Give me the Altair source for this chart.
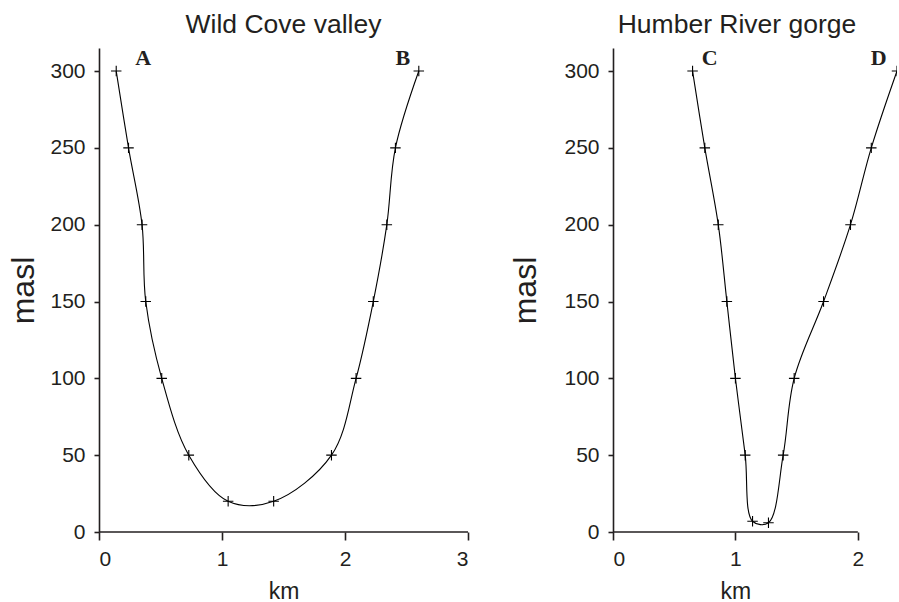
import altair as alt
import pandas as pd

# Wild Cove valley profile (A -> B)
left_km = [0.14, 0.24, 0.35, 0.38, 0.51, 0.73, 1.05, 1.42, 1.89, 2.09, 2.23, 2.34, 2.41, 2.60]
left_masl = [300, 250, 200, 150, 100, 50, 20, 20, 50, 100, 150, 200, 250, 300]
left_labels = ["A", "B"]
left_label_km = [0.36, 2.47]

# Humber River gorge profile (C -> D)
right_km = [0.65, 0.75, 0.86, 0.93, 1.00, 1.08, 1.14, 1.27, 1.39, 1.48, 1.72, 1.94, 2.11, 2.32]
right_masl = [300, 250, 200, 150, 100, 50, 7, 6, 50, 100, 150, 200, 250, 300]
right_labels = ["C", "D"]
right_label_km = [0.79, 2.17]

label_masl = [304, 304]
y_ticks = [0, 50, 100, 150, 200, 250, 300]

INK = "#231f20"
SANS = "Liberation Sans"
SERIF = "Liberation Serif"
CROSS = "M-1,0L1,0M0,-1L0,1"


def panel(xs, ys, labs, lab_x, title, xmax, xview, width, ytitle_pad, clip, title_dx):
    df = pd.DataFrame({"km": xs, "masl": ys, "seq": list(range(len(xs)))})
    lab_df = pd.DataFrame({"km": lab_x, "masl": label_masl, "lab": labs})
    base_df = pd.DataFrame({"x0": [0], "x1": [xmax], "y0": [0]})
    xscale = alt.Scale(domain=[0, xview], nice=False, zero=True)
    yscale = alt.Scale(domain=[0, 315], nice=False, zero=True)
    px_per_km = width / xview
    xaxis = alt.Axis(values=list(range(xmax + 1)), title="km", tickSize=8,
                     labelPadding=8, titlePadding=11, titleFontSize=23,
                     labelFontSize=21, format="d", labelOverlap=False,
                     domain=False, titleX=px_per_km * xmax / 2)
    yaxis = alt.Axis(values=y_ticks, title="masl", tickSize=5, labelPadding=9,
                     titlePadding=ytitle_pad, titleFontSize=32, labelFontSize=21,
                     labelOverlap=False)
    base = alt.Chart(df).encode(
        x=alt.X("km:Q", scale=xscale, axis=xaxis),
        y=alt.Y("masl:Q", scale=yscale, axis=yaxis),
        order=alt.Order("seq:Q"),
    )
    xline = alt.Chart(base_df).mark_rule(color=INK, strokeWidth=1.6).encode(
        x=alt.X("x0:Q", scale=xscale),
        x2="x1:Q",
        y=alt.Y("y0:Q", scale=yscale),
    )
    line = base.mark_line(interpolate="catmull-rom", color="black", strokeWidth=1.1,
                          clip=clip)
    pts = base.mark_point(shape=CROSS, size=110, color="black", strokeWidth=1.1,
                          filled=False, opacity=1, clip=clip)
    txt = alt.Chart(lab_df).mark_text(font=SERIF, fontWeight="bold", fontSize=22,
                                      baseline="alphabetic", align="center",
                                      color=INK).encode(
        x=alt.X("km:Q", scale=xscale),
        y=alt.Y("masl:Q", scale=yscale),
        text="lab:N",
    )
    return alt.layer(xline, line, pts, txt).properties(
        width=width, height=484,
        title=alt.TitleParams(title, fontSize=26.5, font=SANS, fontWeight="normal",
                              color=INK, offset=8, anchor="middle", dx=title_dx),
    )


left = panel(left_km, left_masl, left_labels, left_label_km, "Wild Cove valley",
             3, 3, 369, 9, False, 0)
right = panel(right_km, right_masl, right_labels, right_label_km, "Humber River gorge",
              2, 2.32, 284, 21, True, -18)

chart = alt.hconcat(left, right, spacing=40).properties(
    padding={"left": 7, "top": 12, "right": 0, "bottom": 0}
).configure_view(stroke=None).configure_axis(
    grid=False, domainColor=INK, domainWidth=1.6, tickColor=INK, tickWidth=1.6,
    labelColor=INK, titleColor=INK, labelFont=SANS, titleFont=SANS,
    titleFontWeight="normal",
)

chart.save("out.html", embed_options={"renderer": "svg", "actions": False})
